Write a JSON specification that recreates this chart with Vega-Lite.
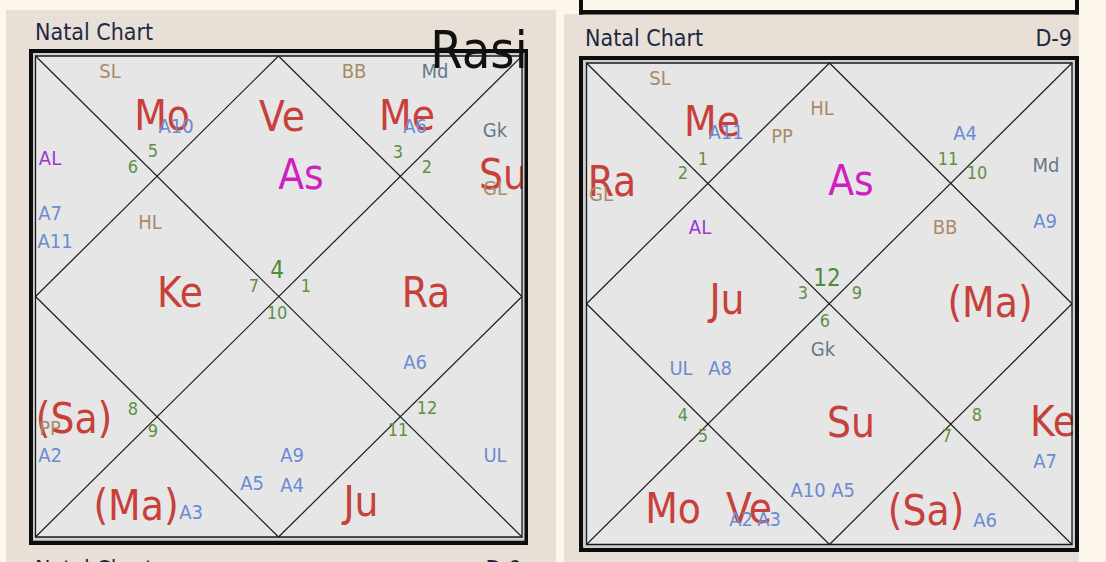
{
  "$schema": "https://vega.github.io/schema/vega-lite/v6.json",
  "width": 1106,
  "height": 562,
  "autosize": {"type": "fit", "contains": "padding"},
  "padding": 0,
  "background": "#fdf6ec",
  "config": {"view": {"stroke": null}, "text": {"font": "DejaVu Sans Condensed, Liberation Sans, sans-serif"}},
  "datasets": {
    "areas": [
      {"x": 6, "x2": 556, "y": 10, "y2": 562, "r": "panel"},
      {"x": 564, "x2": 1079, "y": 14, "y2": 562, "r": "panel"},
      {"x": 579, "x2": 1079, "y": 10, "y2": 14.5, "r": "ink"},
      {"x": 579, "x2": 583, "y": 0, "y2": 14.5, "r": "ink"},
      {"x": 1075, "x2": 1079, "y": 0, "y2": 14.5, "r": "ink"},
      {"x": 29, "x2": 528, "y": 49, "y2": 545, "r": "ink"},
      {"x": 579, "x2": 1079, "y": 56, "y2": 552, "r": "ink"},
      {"x": 33, "x2": 524, "y": 53, "y2": 541, "r": "band"},
      {"x": 583, "x2": 1075, "y": 60, "y2": 548, "r": "band"},
      {"x": 35.5, "x2": 522, "y": 56, "y2": 537, "r": "board"},
      {"x": 586.5, "x2": 1072, "y": 63, "y2": 544.5, "r": "board"}
    ],
    "frames": [
      {"x": 31, "x2": 526, "y": 51, "y2": 542.5, "r": "outer"},
      {"x": 581, "x2": 1076.5, "y": 58, "y2": 549.5, "r": "outer"},
      {"x": 34, "x2": 523.5, "y": 54, "y2": 539.5, "r": "band"},
      {"x": 584.5, "x2": 1074, "y": 61, "y2": 547, "r": "band"},
      {"x": 35.5, "x2": 522, "y": 56, "y2": 537, "r": "inner"},
      {"x": 586.5, "x2": 1072, "y": 63, "y2": 544.5, "r": "inner"}
    ],
    "lines": [
      {"x": 35.5, "y": 56, "x2": 522, "y2": 537},
      {"x": 522, "y": 56, "x2": 35.5, "y2": 537},
      {"x": 278.5, "y": 56, "x2": 522, "y2": 296.5},
      {"x": 522, "y": 296.5, "x2": 278.5, "y2": 537},
      {"x": 278.5, "y": 537, "x2": 35.5, "y2": 296.5},
      {"x": 35.5, "y": 296.5, "x2": 278.5, "y2": 56},
      {"x": 586.5, "y": 63, "x2": 1072, "y2": 544.5},
      {"x": 1072, "y": 63, "x2": 586.5, "y2": 544.5},
      {"x": 829.5, "y": 63, "x2": 1072, "y2": 303.75},
      {"x": 1072, "y": 303.75, "x2": 829.5, "y2": 544.5},
      {"x": 829.5, "y": 544.5, "x2": 586.5, "y2": 303.75},
      {"x": 586.5, "y": 303.75, "x2": 829.5, "y2": 63}
    ],
    "labels": [
      {"t": "Natal Chart", "x": 35, "y": 33, "r": "header"},
      {"t": "Rasi", "x": 479, "y": 52, "r": "chart"},
      {"t": "Natal Chart", "x": 35, "y": 570, "r": "header"},
      {"t": "D-9", "x": 522, "y": 570, "r": "headerR"},
      {"t": "SL", "x": 110, "y": 72, "r": "sahama"},
      {"t": "Mo", "x": 162, "y": 117, "r": "graha"},
      {"t": "A10", "x": 176, "y": 127, "r": "arudha"},
      {"t": "5", "x": 153, "y": 152, "r": "rashi"},
      {"t": "6", "x": 133, "y": 168, "r": "rashi"},
      {"t": "AL", "x": 50, "y": 159, "r": "arudhalagna"},
      {"t": "Ve", "x": 282, "y": 118, "r": "graha"},
      {"t": "As", "x": 301, "y": 176, "r": "lagna"},
      {"t": "BB", "x": 354, "y": 72, "r": "sahama"},
      {"t": "Md", "x": 435, "y": 72, "r": "upagraha"},
      {"t": "Me", "x": 407, "y": 117, "r": "graha"},
      {"t": "A6", "x": 415, "y": 127, "r": "arudha"},
      {"t": "3", "x": 398, "y": 153, "r": "rashi"},
      {"t": "2", "x": 427, "y": 168, "r": "rashi"},
      {"t": "Gk", "x": 495, "y": 131, "r": "upagraha"},
      {"t": "Su", "x": 503, "y": 176, "r": "graha"},
      {"t": "GL", "x": 495, "y": 189, "r": "sahama"},
      {"t": "A7", "x": 50, "y": 214, "r": "arudha"},
      {"t": "A11", "x": 55, "y": 242, "r": "arudha"},
      {"t": "HL", "x": 150, "y": 223, "r": "sahama"},
      {"t": "Ke", "x": 180, "y": 294, "r": "graha"},
      {"t": "4", "x": 277, "y": 271, "r": "lagnarashi"},
      {"t": "7", "x": 254, "y": 287, "r": "rashi"},
      {"t": "1", "x": 306, "y": 287, "r": "rashi"},
      {"t": "10", "x": 277, "y": 314, "r": "rashi"},
      {"t": "Ra", "x": 426, "y": 294, "r": "graha"},
      {"t": "A6", "x": 415, "y": 363, "r": "arudha"},
      {"t": "(Sa)", "x": 74, "y": 420, "r": "graha"},
      {"t": "PP", "x": 50, "y": 429, "r": "sahama"},
      {"t": "A2", "x": 50, "y": 456, "r": "arudha"},
      {"t": "8", "x": 133, "y": 410, "r": "rashi"},
      {"t": "9", "x": 153, "y": 432, "r": "rashi"},
      {"t": "(Ma)", "x": 136, "y": 507, "r": "graha"},
      {"t": "A3", "x": 191, "y": 513, "r": "arudha"},
      {"t": "A5", "x": 252, "y": 484, "r": "arudha"},
      {"t": "A9", "x": 292, "y": 456, "r": "arudha"},
      {"t": "A4", "x": 292, "y": 486, "r": "arudha"},
      {"t": "Ju", "x": 361, "y": 503, "r": "graha"},
      {"t": "11", "x": 398, "y": 431, "r": "rashi"},
      {"t": "12", "x": 427, "y": 409, "r": "rashi"},
      {"t": "UL", "x": 495, "y": 456, "r": "arudha"},
      {"t": "Natal Chart", "x": 585, "y": 39, "r": "header"},
      {"t": "D-9", "x": 1072, "y": 39, "r": "headerR"},
      {"t": "SL", "x": 660, "y": 79, "r": "sahama"},
      {"t": "Me", "x": 712, "y": 123, "r": "graha"},
      {"t": "A11", "x": 726, "y": 133, "r": "arudha"},
      {"t": "PP", "x": 782, "y": 137, "r": "sahama"},
      {"t": "HL", "x": 822, "y": 109, "r": "sahama"},
      {"t": "1", "x": 703, "y": 160, "r": "rashi"},
      {"t": "2", "x": 683, "y": 174, "r": "rashi"},
      {"t": "Ra", "x": 612, "y": 183, "r": "graha"},
      {"t": "GL", "x": 601, "y": 195, "r": "sahama"},
      {"t": "As", "x": 851, "y": 182, "r": "lagna"},
      {"t": "A4", "x": 965, "y": 134, "r": "arudha"},
      {"t": "11", "x": 948, "y": 160, "r": "rashi"},
      {"t": "10", "x": 977, "y": 174, "r": "rashi"},
      {"t": "Md", "x": 1046, "y": 166, "r": "upagraha"},
      {"t": "AL", "x": 700, "y": 228, "r": "arudhalagna"},
      {"t": "Ju", "x": 727, "y": 301, "r": "graha"},
      {"t": "3", "x": 803, "y": 294, "r": "rashi"},
      {"t": "12", "x": 827, "y": 279, "r": "lagnarashi"},
      {"t": "6", "x": 825, "y": 322, "r": "rashi"},
      {"t": "Gk", "x": 823, "y": 350, "r": "upagraha"},
      {"t": "UL", "x": 681, "y": 369, "r": "arudha"},
      {"t": "A8", "x": 720, "y": 369, "r": "arudha"},
      {"t": "BB", "x": 945, "y": 228, "r": "sahama"},
      {"t": "A9", "x": 1045, "y": 222, "r": "arudha"},
      {"t": "9", "x": 857, "y": 294, "r": "rashi"},
      {"t": "(Ma)", "x": 990, "y": 304, "r": "graha"},
      {"t": "4", "x": 683, "y": 416, "r": "rashi"},
      {"t": "5", "x": 703, "y": 437, "r": "rashi"},
      {"t": "Mo", "x": 673, "y": 510, "r": "graha"},
      {"t": "Ve", "x": 749, "y": 510, "r": "graha"},
      {"t": "A2", "x": 741, "y": 520, "r": "arudha"},
      {"t": "A3", "x": 769, "y": 520, "r": "arudha"},
      {"t": "A10", "x": 808, "y": 491, "r": "arudha"},
      {"t": "A5", "x": 843, "y": 491, "r": "arudha"},
      {"t": "Su", "x": 851, "y": 424, "r": "graha"},
      {"t": "7", "x": 947, "y": 437, "r": "rashi"},
      {"t": "8", "x": 977, "y": 416, "r": "rashi"},
      {"t": "Ke", "x": 1053, "y": 423, "r": "graha"},
      {"t": "A7", "x": 1045, "y": 462, "r": "arudha"},
      {"t": "(Sa)", "x": 926, "y": 512, "r": "graha"},
      {"t": "A6", "x": 985, "y": 521, "r": "arudha"}
    ]
  },
  "encoding": {
    "x": {"field": "x", "type": "quantitative", "scale": {"domain": [0, 1106], "nice": false, "zero": false}, "axis": null},
    "y": {"field": "y", "type": "quantitative", "scale": {"domain": [0, 562], "nice": false, "zero": false, "reverse": true}, "axis": null}
  },
  "layer": [
    {
      "data": {"name": "areas"},
      "mark": {"type": "rect"},
      "encoding": {
        "x2": {"field": "x2"},
        "y2": {"field": "y2"},
        "fill": {"field": "r", "type": "nominal", "scale": {"domain": ["panel", "ink", "band", "board"], "range": ["#e8e0d7", "#0d0d0d", "#cfcfcf", "#e6e6e6"]}, "legend": null}
      }
    },
    {
      "data": {"name": "lines"},
      "mark": {"type": "rule", "stroke": "#1c1c1c", "strokeWidth": 1.2},
      "encoding": {"x2": {"field": "x2"}, "y2": {"field": "y2"}}
    },
    {
      "data": {"name": "labels"},
      "transform": [{"filter": "datum.r === 'graha' || datum.r === 'lagna'"}],
      "mark": {"type": "text", "fontSize": 42, "align": "center", "baseline": "middle"},
      "encoding": {
        "text": {"field": "t"},
        "color": {"field": "r", "type": "nominal", "scale": {"domain": ["graha", "lagna", "rashi", "lagnarashi", "sahama", "upagraha", "arudhalagna", "arudha", "header", "headerR", "chart"], "range": ["#c7403a", "#d01fbf", "#5e9045", "#4f8a3a", "#a98a68", "#65798a", "#9a36d8", "#6b8bd3", "#1d2944", "#1d2944", "#111111"]}, "legend": null}
      }
    },
    {
      "data": {"name": "labels"},
      "transform": [{"filter": "datum.r === 'sahama' || datum.r === 'upagraha' || datum.r === 'arudhalagna' || datum.r === 'arudha'"}],
      "mark": {"type": "text", "fontSize": 20, "align": "center", "baseline": "middle"},
      "encoding": {
        "text": {"field": "t"},
        "color": {"field": "r", "type": "nominal", "scale": {"domain": ["graha", "lagna", "rashi", "lagnarashi", "sahama", "upagraha", "arudhalagna", "arudha", "header", "headerR", "chart"], "range": ["#c7403a", "#d01fbf", "#5e9045", "#4f8a3a", "#a98a68", "#65798a", "#9a36d8", "#6b8bd3", "#1d2944", "#1d2944", "#111111"]}, "legend": null}
      }
    },
    {
      "data": {"name": "labels"},
      "transform": [{"filter": "datum.r === 'rashi'"}],
      "mark": {"type": "text", "fontSize": 18, "align": "center", "baseline": "middle"},
      "encoding": {
        "text": {"field": "t"},
        "color": {"field": "r", "type": "nominal", "scale": {"domain": ["graha", "lagna", "rashi", "lagnarashi", "sahama", "upagraha", "arudhalagna", "arudha", "header", "headerR", "chart"], "range": ["#c7403a", "#d01fbf", "#5e9045", "#4f8a3a", "#a98a68", "#65798a", "#9a36d8", "#6b8bd3", "#1d2944", "#1d2944", "#111111"]}, "legend": null}
      }
    },
    {
      "data": {"name": "labels"},
      "transform": [{"filter": "datum.r === 'lagnarashi'"}],
      "mark": {"type": "text", "fontSize": 24, "align": "center", "baseline": "middle"},
      "encoding": {
        "text": {"field": "t"},
        "color": {"field": "r", "type": "nominal", "scale": {"domain": ["graha", "lagna", "rashi", "lagnarashi", "sahama", "upagraha", "arudhalagna", "arudha", "header", "headerR", "chart"], "range": ["#c7403a", "#d01fbf", "#5e9045", "#4f8a3a", "#a98a68", "#65798a", "#9a36d8", "#6b8bd3", "#1d2944", "#1d2944", "#111111"]}, "legend": null}
      }
    },
    {
      "data": {"name": "labels"},
      "transform": [{"filter": "datum.r === 'header'"}],
      "mark": {"type": "text", "fontSize": 23, "align": "left", "baseline": "middle", "clip": true},
      "encoding": {
        "text": {"field": "t"},
        "color": {"field": "r", "type": "nominal", "scale": {"domain": ["graha", "lagna", "rashi", "lagnarashi", "sahama", "upagraha", "arudhalagna", "arudha", "header", "headerR", "chart"], "range": ["#c7403a", "#d01fbf", "#5e9045", "#4f8a3a", "#a98a68", "#65798a", "#9a36d8", "#6b8bd3", "#1d2944", "#1d2944", "#111111"]}, "legend": null}
      }
    },
    {
      "data": {"name": "labels"},
      "transform": [{"filter": "datum.r === 'headerR'"}],
      "mark": {"type": "text", "fontSize": 23, "align": "right", "baseline": "middle", "clip": true},
      "encoding": {
        "text": {"field": "t"},
        "color": {"field": "r", "type": "nominal", "scale": {"domain": ["graha", "lagna", "rashi", "lagnarashi", "sahama", "upagraha", "arudhalagna", "arudha", "header", "headerR", "chart"], "range": ["#c7403a", "#d01fbf", "#5e9045", "#4f8a3a", "#a98a68", "#65798a", "#9a36d8", "#6b8bd3", "#1d2944", "#1d2944", "#111111"]}, "legend": null}
      }
    },
    {
      "data": {"name": "frames"},
      "transform": [{"filter": "datum.r === 'outer'"}],
      "mark": {"type": "rect", "fill": "transparent", "stroke": "#0d0d0d", "strokeWidth": 4},
      "encoding": {"x2": {"field": "x2"}, "y2": {"field": "y2"}}
    },
    {
      "data": {"name": "frames"},
      "transform": [{"filter": "datum.r === 'band'"}],
      "mark": {"type": "rect", "fill": "transparent", "stroke": "#cfcfcf", "strokeWidth": 2},
      "encoding": {"x2": {"field": "x2"}, "y2": {"field": "y2"}}
    },
    {
      "data": {"name": "frames"},
      "transform": [{"filter": "datum.r === 'inner'"}],
      "mark": {"type": "rect", "fill": "transparent", "stroke": "#1a1a1a", "strokeWidth": 1.3},
      "encoding": {"x2": {"field": "x2"}, "y2": {"field": "y2"}}
    },
    {
      "data": {"name": "labels"},
      "transform": [{"filter": "datum.r === 'chart'"}],
      "mark": {"type": "text", "fontSize": 52, "align": "center", "baseline": "middle"},
      "encoding": {
        "text": {"field": "t"},
        "color": {"field": "r", "type": "nominal", "scale": {"domain": ["graha", "lagna", "rashi", "lagnarashi", "sahama", "upagraha", "arudhalagna", "arudha", "header", "headerR", "chart"], "range": ["#c7403a", "#d01fbf", "#5e9045", "#4f8a3a", "#a98a68", "#65798a", "#9a36d8", "#6b8bd3", "#1d2944", "#1d2944", "#111111"]}, "legend": null}
      }
    }
  ]
}
